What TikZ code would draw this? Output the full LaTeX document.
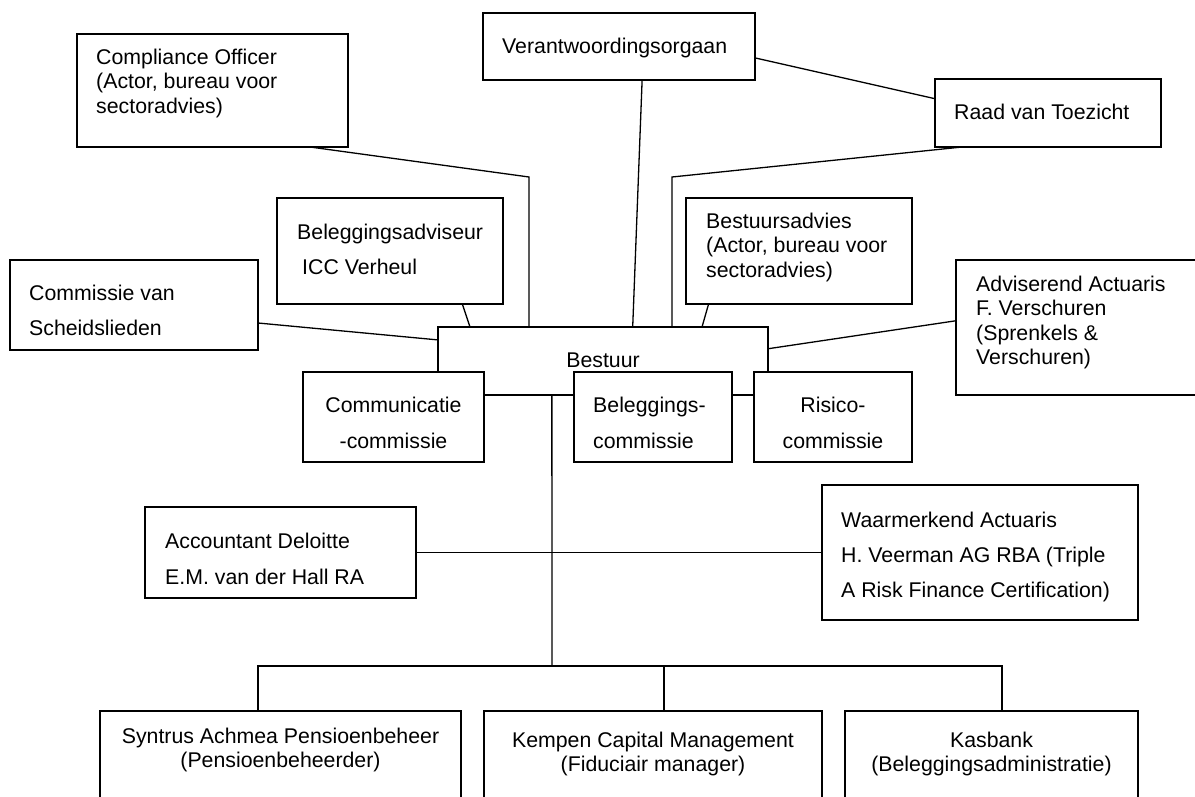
\documentclass[tikz,border=0pt]{standalone}
\usepackage{fontspec}
\setmainfont{Liberation Sans}
\usepackage{tikz}
\usetikzlibrary{calc}
\tikzstyle{blok} = [draw, fill=white, line width=1.3pt, inner sep=0pt, outer sep=0pt, anchor=north west]
\tikzstyle{lijn} = [line width=1.3pt]
\tikzstyle{tekst} = [inner sep=0pt, anchor=north west, align=left, font=\fontsize{21.3}{24.5}\selectfont]
\tikzstyle{tekstruim} = [inner sep=0pt, anchor=north west, align=left, font=\fontsize{21.3}{35.5}\selectfont]
\tikzstyle{tekstmidden} = [inner sep=0pt, anchor=north, align=center, font=\fontsize{21.3}{24.5}\selectfont]

\begin{document}
\begin{tikzpicture}[yscale=-1]
			\useasboundingbox (0pt,0pt) rectangle (1195pt,797pt);
			\node[blok, minimum width=271pt, minimum height=113pt] (compliance) at (77pt,34pt) {};
			\node[tekst] (complianceTekst) at (96pt,48.6pt) {Compliance Officer\\(Actor, bureau voor\\sectoradvies)};
			\node[blok, minimum width=272pt, minimum height=67pt] (verant) at (483pt,13pt) {};
			\node[tekst] (verantTekst) at (502pt,37.6pt) {Verantwoordingsorgaan};
			\node[blok, minimum width=226pt, minimum height=68pt] (raad) at (935pt,79pt) {};
			\node[tekst] (raadTekst) at (954pt,103.6pt) {Raad van Toezicht};
			\node[blok, minimum width=226pt, minimum height=106pt] (adviseur) at (277pt,198pt) {};
			\node[tekstruim] (adviseurTekst) at (297pt,223.6pt) {Beleggingsadviseur\\\hspace{5pt}ICC Verheul};
			\node[blok, minimum width=248pt, minimum height=90pt] (scheids) at (10pt,260pt) {};
			\node[tekstruim] (scheidsTekst) at (29pt,284.6pt) {Commissie van\\Scheidslieden};
			\node[blok, minimum width=226pt, minimum height=106pt] (advies) at (686pt,198pt) {};
			\node[tekst] (adviesTekst) at (706pt,212.6pt) {Bestuursadvies\\(Actor, bureau voor\\sectoradvies)};
			\node[blok, minimum width=270pt, minimum height=135pt] (actuaris) at (956pt,260pt) {};
			\node[tekst] (actuarisTekst) at (976pt,275.6pt) {Adviserend Actuaris\\F. Verschuren\\(Sprenkels \&\\Verschuren)};
			\coordinate (complianceKnik) at (529pt,177pt);
			\coordinate (raadKnik) at (672pt,177pt);
			\coordinate (busL) at (258pt,666pt);
			\coordinate (busM) at (664pt,666pt);
			\coordinate (busR) at (1002pt,666pt);
			\node[blok, minimum width=330pt, minimum height=68pt] (bestuur) at (438pt,327pt) {};
			\node[tekstmidden] (bestuurTekst) at (603pt,352.6pt) {Bestuur};
			\node[blok, minimum width=181pt, minimum height=90pt] (communicatie) at (303pt,372pt) {};
			\node[tekstmidden, font=\fontsize{21.3}{36}\selectfont] (communicatieTekst) at (393.5pt,396.6pt) {Communicatie\\-commissie};
			\node[blok, minimum width=158pt, minimum height=90pt] (belegging) at (574pt,372pt) {};
			\node[tekstruim, font=\fontsize{21.3}{36}\selectfont] (beleggingTekst) at (593pt,396.6pt) {Beleggings-\\commissie};
			\node[blok, minimum width=158pt, minimum height=90pt] (risico) at (754pt,372pt) {};
			\node[tekstmidden, font=\fontsize{21.3}{36}\selectfont] (risicoTekst) at (833pt,396.6pt) {Risico-\\commissie};
			\node[blok, minimum width=271pt, minimum height=91pt] (accountant) at (145pt,507pt) {};
			\node[tekstruim, font=\fontsize{21.3}{36}\selectfont] (accountantTekst) at (165pt,532.6pt) {Accountant Deloitte\\E.M. van der Hall RA};
			\node[blok, minimum width=316pt, minimum height=135pt] (waarmerk) at (822pt,485pt) {};
			\node[tekstruim, font=\fontsize{21.3}{35}\selectfont] (waarmerkTekst) at (841pt,511.6pt) {Waarmerkend Actuaris\\H. Veerman AG RBA (Triple\\A Risk Finance Certification)};
			\node[blok, minimum width=361pt, minimum height=120pt] (syntrus) at (100pt,711pt) {};
			\node[tekstmidden] (syntrusTekst) at (280.5pt,727.6pt) {Syntrus Achmea Pensioenbeheer\\(Pensioenbeheerder)};
			\node[blok, minimum width=338pt, minimum height=120pt] (kempen) at (484pt,711pt) {};
			\node[tekstmidden] (kempenTekst) at (653pt,731.6pt) {Kempen Capital Management\\(Fiduciair manager)};
			\node[blok, minimum width=293pt, minimum height=120pt] (kasbank) at (845pt,711pt) {};
			\node[tekstmidden] (kasbankTekst) at (991.5pt,731.6pt) {Kasbank\\(Beleggingsadministratie)};
			\draw[lijn] ($(compliance.south west)!0.86!(compliance.south east)$) -- (complianceKnik) -- (complianceKnik |- bestuur.north);
			\draw[lijn] ($(verant.south west)!0.585!(verant.south east)$) -- ($(bestuur.north west)!0.59!(bestuur.north east)$);
			\draw[lijn] ($(verant.north east)!0.67!(verant.south east)$) -- ($(raad.north west)!0.29!(raad.south west)$);
			\draw[lijn] ($(raad.south west)!0.12!(raad.south east)$) -- (raadKnik) -- (raadKnik |- bestuur.north);
			\draw[lijn] ($(advies.south west)!0.10!(advies.south east)$) -- ($(bestuur.north west)!0.80!(bestuur.north east)$);
			\draw[lijn] ($(actuaris.north west)!0.45!(actuaris.south west)$) -- ($(bestuur.north east)!0.32!(bestuur.south east)$);
			\draw[lijn] ($(adviseur.south west)!0.82!(adviseur.south east)$) -- ($(bestuur.north west)!0.097!(bestuur.north east)$);
			\draw[lijn] ($(scheids.north east)!0.70!(scheids.south east)$) -- ($(bestuur.north west)!0.19!(bestuur.south west)$);
			\draw[lijn] ($(bestuur.south west)!0.345!(bestuur.south east)$) -- (busL -| 552pt,0pt);
			\draw[lijn] (accountant.east) -- (waarmerk.west);
			\draw[lijn] (busL |- syntrus.north) -- (busL) -- (busR) -- (busR |- kasbank.north);
			\draw[lijn] (busM) -- (busM |- kempen.north);
		\end{tikzpicture}
\end{document}
